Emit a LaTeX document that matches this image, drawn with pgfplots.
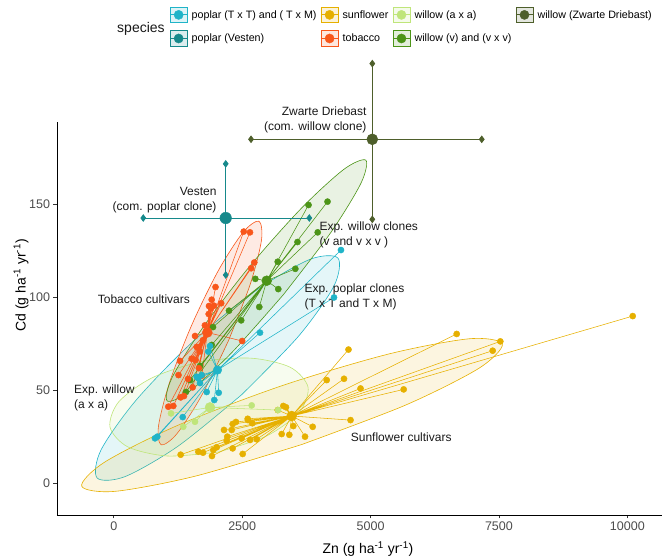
\documentclass[border=0pt]{standalone}
\usepackage{pgfplots}
\pgfplotsset{compat=1.18}
\usepackage{fontspec}
\setmainfont{Liberation Sans}
\definecolor{cyanC}{HTML}{20B4C8}
\definecolor{tealC}{HTML}{16898B}
\definecolor{sunC}{HTML}{E6B000}
\definecolor{tobC}{HTML}{F8561A}
\definecolor{wAC}{HTML}{BFE57A}
\definecolor{wVC}{HTML}{4C9418}
\definecolor{zwC}{HTML}{4E5F2B}
\definecolor{gray30}{HTML}{4D4D4D}
\pgfplotsset{
  legkey/.style 2 args={legend image code/.code={
    \draw[draw=#1, fill=#2, line width=0.6pt] (0pt,-7.7pt) rectangle (17.3pt,7.7pt);
    \draw[#1, line width=0.8pt] (0pt,0pt) -- (17.3pt,0pt);
    \fill[#1] (8.65pt,0pt) circle (4.6pt);}},
  ell/.style={draw=#1, fill=#1, fill opacity=0.12, line width=0.6pt, smooth},
  spoke/.style={#1, line width=0.55pt, no markers},
  pts/.style={only marks, mark=*, mark size=3.1pt, #1, mark options={draw=#1, fill=#1}},
  bigpt/.style={only marks, mark=*, mark size=5pt, #1, mark options={draw=#1, fill=#1}},
  whisk/.style={#1, line width=0.8pt, mark=diamond*, mark size=3.2pt, mark options={fill=#1, draw=#1}},
}
\begin{document}
\begin{tikzpicture}
\begin{axis}[
  at={(0pt,0pt)}, anchor=south west,
  scale only axis, width=605pt, height=393pt,
  xmin=-1106, xmax=10675, ymin=-16.9, ymax=194.3,
  axis x line*=bottom, axis y line*=left,
  axis line style={-, line width=0.8pt, black},
  clip=false,
  xtick={0,2500,5000,7500,10000}, ytick={0,50,100,150},
  scaled x ticks=false,
  tick align=outside, major tick length=3.5pt,
  tick style={line width=0.8pt, color=black!80},
  /pgf/number format/assume math mode=true,
  xticklabel style={/pgf/number format/1000 sep={}},
  tick label style={font=\fontsize{12.5}{14}\selectfont, color=gray30},
  xlabel={Zn (g ha\textsuperscript{-1} yr\textsuperscript{-1})},
  ylabel={Cd (g ha\textsuperscript{-1} yr\textsuperscript{-1})},
  label style={font=\fontsize{14}{16}\selectfont},
  xlabel style={at={(axis description cs:0.514,-0.087)}, anchor=center},
  ylabel style={at={(axis description cs:-0.0595,0.584)}, anchor=center},
  legend columns=2, transpose legend,
  legend cell align=left,
  legend style={at={(axis description cs:0.1861,1.2929)}, anchor=north west,
    draw=none, fill=none, inner sep=0pt, outer sep=0pt,
    font=\fontsize{10.7}{12}\selectfont,
    nodes={inner sep=0pt},
    row sep=7.6pt,
    /tikz/every odd column/.append style={column sep=4pt},
    /tikz/every even column/.append style={column sep=4pt}},
]
% ---------- legend ----------
\addlegendimage{legkey={cyanC}{cyanC!15}}
\addlegendentry{poplar (T x T) and ( T x M)}
\addlegendimage{legkey={tealC}{tealC!15}}
\addlegendentry{poplar (Vesten)}
\addlegendimage{legkey={sunC}{sunC!15}}
\addlegendentry{sunflower}
\addlegendimage{legkey={tobC}{tobC!15}}
\addlegendentry{tobacco}
\addlegendimage{legkey={wAC}{wAC!15}}
\addlegendentry{willow (a x a)}
\addlegendimage{legkey={wVC}{wVC!15}}
\addlegendentry{willow (v) and (v x v)}
\addlegendimage{legkey={zwC}{zwC!15}}
\addlegendentry{willow (Zwarte Driebast)}
\addlegendimage{empty legend}
\addlegendentry{}

% ---------- ellipses ----------
\addplot[ell=cyanC, forget plot] coordinates {(2492,47.8)(1257,20.2)(225,3.8)(-325,3.0)(-248,18.1)(437,44.9)(1546,76.4)(2782,104.0)(3813,120.4)(4364,121.2)(4286,106.1)(3601,79.3)(2492,47.8)} -- cycle;
\addplot[ell=sunC, forget plot] coordinates {(3663,21.0)(1590,4.0)(20,-4.2)(-625,-1.4)(-173,11.6)(1255,31.4)(3277,52.6)(5350,69.6)(6920,77.8)(7565,75.0)(7113,62.0)(5685,42.2)(3663,21.0)} -- cycle;
\addplot[ell=tobC, forget plot] coordinates {(2230,76.6)(1706,47.1)(1227,26.7)(922,20.8)(871,31.0)(1089,54.6)(1518,85.2)(2041,114.7)(2520,135.1)(2826,141.0)(2876,130.8)(2658,107.2)(2230,76.6)} -- cycle;
\addplot[ell=wAC, forget plot] coordinates {(2031,16.9)(1044,14.8)(273,19.7)(-74,30.35)(96,43.9)(737,56.7)(1677,65.3)(2665,67.4)(3435,62.5)(3782,51.85)(3612,38.3)(2971,25.5)(2031,16.9)} -- cycle;
\addplot[ell=wVC, forget plot] coordinates {(3305,101.6)(2293,70.25)(1464,49.3)(1040,44.4)(1133,56.8)(1719,83.25)(2642,116.6)(3653,147.95)(4482,168.9)(4907,173.8)(4813,161.4)(4227,134.95)(3305,101.6)} -- cycle;

% ---------- spokes (mean to each point) ----------
\addplot[spoke=sunC, forget plot] coordinates {(3464,36.3)(10105,90.0)(3464,36.3)(7527,76.4)(3464,36.3)(7378,71.4)(3464,36.3)(6677,80.4)(3464,36.3)(4570,72.0)(3464,36.3)(4146,55.6)(3464,36.3)(4483,56.3)(3464,36.3)(4805,51.1)(3464,36.3)(5645,50.6)(3464,36.3)(4610,34.1)(3464,36.3)(3873,30.5)(3464,36.3)(3724,25.2)(3464,36.3)(3496,30.9)(3464,36.3)(3269,26.6)(3464,36.3)(3418,26.2)(3464,36.3)(3301,41.7)(3464,36.3)(3353,41.0)(3464,36.3)(3192,39.5)(3464,36.3)(2607,34.8)(3464,36.3)(2379,33.1)(3464,36.3)(2315,32.0)(3464,36.3)(2697,32.4)(3464,36.3)(2146,28.8)(3464,36.3)(2296,28.8)(3464,36.3)(2210,25.2)(3464,36.3)(2490,24.3)(3464,36.3)(2782,23.8)(3464,36.3)(2004,19.5)(3464,36.3)(2315,18.9)(3464,36.3)(2510,15.9)(3464,36.3)(1737,16.6)(3464,36.3)(1912,14.8)(3464,36.3)(1302,15.5)(3464,36.3)(1646,17.1)(3464,36.3)(2653,23.4)(3464,36.3)(2198,23.0)(3464,36.3)(2613,34.1)(3464,36.3)(1938,18.0)};
\addplot[spoke=cyanC, forget plot] coordinates {(2019,61.0)(4424,125.5)(2019,61.0)(4288,100.0)(2019,61.0)(2847,81.1)(2019,61.0)(1646,56.6)(2019,61.0)(1614,57.4)(2019,61.0)(1712,58.3)(2019,61.0)(1679,54.0)(2019,61.0)(1809,49.2)(2019,61.0)(2043,48.8)(2019,61.0)(1957,44.9)(2019,61.0)(1342,35.7)(2019,61.0)(802,24.3)(2019,61.0)(847,25.2)(2019,61.0)(1873,73.9)(2019,61.0)(1840,70.9)};
\addplot[spoke=tobC, forget plot] coordinates {(1821,81.2)(2530,135.4)(1821,81.2)(2652,135.0)(1821,81.2)(2736,118.8)(1821,81.2)(2675,115.7)(1821,81.2)(1981,105.6)(1821,81.2)(1906,98.8)(1821,81.2)(1951,95.6)(1821,81.2)(2091,96.9)(1821,81.2)(1854,95.4)(1821,81.2)(1892,94.1)(1821,81.2)(1848,91.1)(1821,81.2)(1582,79.3)(1821,81.2)(2500,76.6)(1821,81.2)(1614,73.4)(1821,81.2)(1517,67.1)(1821,81.2)(1594,66.4)(1821,81.2)(1290,65.9)(1821,81.2)(1260,58.3)(1821,81.2)(1445,56.2)(1821,81.2)(1536,51.7)(1821,81.2)(1367,47.0)(1821,81.2)(1302,46.3)(1821,81.2)(1159,41.7)(1821,81.2)(1061,41.3)(1821,81.2)(1735,77)(1821,81.2)(1676,71)(1821,81.2)(1774,85)(1821,81.2)(1656,62)(1821,81.2)(1715,58)};
\addplot[spoke=wAC, forget plot] coordinates {(1873,40.9)(1114,37.7)(1873,40.9)(1581,33.2)(1873,40.9)(2685,42.0)(1873,40.9)(3198,39.5)(1873,40.9)(1353,30.5)};
\addplot[spoke=wVC, forget plot] coordinates {(2978,109.0)(3792,149.7)(2978,109.0)(4162,151.5)(2978,109.0)(3971,135.0)(2978,109.0)(3577,129.8)(2978,109.0)(3192,119.2)(2978,109.0)(3535,115.4)(2978,109.0)(3203,104.5)(2978,109.0)(2756,110.0)(2978,109.0)(2833,94.9)(2978,109.0)(2243,92.9)(2978,109.0)(2481,87.7)(2978,109.0)(1932,84.1)(2978,109.0)(1907,74.5)(2978,109.0)(1679,63.2)(2978,109.0)(1484,55.6)(2978,109.0)(1406,49.2)};

% ---------- points ----------
\addplot[pts=sunC, forget plot] coordinates {(10105,90.0)(7527,76.4)(7378,71.4)(6677,80.4)(4570,72.0)(4146,55.6)(4483,56.3)(4805,51.1)(5645,50.6)(4610,34.1)(3873,30.5)(3724,25.2)(3496,30.9)(3269,26.6)(3418,26.2)(3301,41.7)(3353,41.0)(3192,39.5)(2607,34.8)(2379,33.1)(2315,32.0)(2697,32.4)(2146,28.8)(2296,28.8)(2210,25.2)(2490,24.3)(2782,23.8)(2004,19.5)(2315,18.9)(2510,15.9)(1737,16.6)(1912,14.8)(1302,15.5)(1646,17.1)(2653,23.4)(2198,23.0)(2613,34.1)(1938,18.0)};
\addplot[pts=wAC, forget plot] coordinates {(1114,37.7)(1581,33.2)(2685,42.0)(3198,39.5)(1353,30.5)};
\addplot[pts=wVC, forget plot] coordinates {(3792,149.7)(4162,151.5)(3971,135.0)(3577,129.8)(3192,119.2)(3535,115.4)(3203,104.5)(2756,110.0)(2833,94.9)(2243,92.9)(2481,87.7)(1932,84.1)(1907,74.5)(1679,63.2)(1484,55.6)(1406,49.2)};
\addplot[pts=tobC, forget plot] coordinates {(2530,135.4)(2652,135.0)(2736,118.8)(2675,115.7)(1981,105.6)(1906,98.8)(1951,95.6)(2091,96.9)(1854,95.4)(1892,94.1)(1848,91.1)(1582,79.3)(2500,76.6)(1614,73.4)(1517,67.1)(1594,66.4)(1290,65.9)(1260,58.3)(1445,56.2)(1536,51.7)(1367,47.0)(1302,46.3)(1159,41.7)(1061,41.3)(1735,77)(1676,71)(1774,85)(1656,62)(1715,58)};
\addplot[pts=cyanC, forget plot] coordinates {(4424,125.5)(4288,100.0)(2847,81.1)(1646,56.6)(1614,57.4)(1712,58.3)(1679,54.0)(1809,49.2)(2043,48.8)(1957,44.9)(1342,35.7)(802,24.3)(847,25.2)(1873,73.9)(1840,70.9)};

% ---------- means ----------
\addplot[bigpt=sunC, forget plot] coordinates {(3464,36.3)};
\addplot[bigpt=wAC, forget plot] coordinates {(1873,40.9)};
\addplot[bigpt=tobC, forget plot] coordinates {(1821,81.2)};
\addplot[bigpt=wVC, forget plot] coordinates {(2978,109.0)};
\addplot[bigpt=cyanC, mark size=4.3pt, forget plot] coordinates {(2019,61.0)};

% ---------- commercial clones with error bars ----------
\addplot[whisk=tealC, forget plot] coordinates {(574,142.7)(3807,142.7)};
\addplot[whisk=tealC, forget plot] coordinates {(2179,112.1)(2179,171.8)};
\addplot[bigpt=tealC, mark size=5.8pt, forget plot] coordinates {(2179,142.7)};
\addplot[whisk=zwC, forget plot] coordinates {(2672,185.0)(7165,185.0)};
\addplot[whisk=zwC, forget plot] coordinates {(5034,142.0)(5034,225.7)};
\addplot[bigpt=zwC, mark size=5.5pt, forget plot] coordinates {(5034,185.0)};

% ---------- annotations ----------
\begin{scope}[every node/.style={font=\fontsize{12}{15}\selectfont, inner sep=0pt, text=black!90}]
\node[anchor=east, align=right] at (axis cs:4925,195.2) {Zwarte Driebast\\(com. willow clone)};
\node[anchor=east, align=right] at (axis cs:2004,152.1) {Vesten\\(com. poplar clone)};
\node[anchor=west, align=left] at (axis cs:4002,133.6) {Exp. willow clones\\(v and v x v )};
\node[anchor=west, align=left] at (axis cs:3710,100.3) {Exp. poplar clones\\(T x T and T x M)};
\node[anchor=west] at (axis cs:-314,99.0) {Tobacco cultivars};
\node[anchor=west, align=left] at (axis cs:-775,46.0) {Exp. willow\\(a x a)};
\node[anchor=west] at (axis cs:4613,24.8) {Sunflower cultivars};
\node[anchor=center, font=\fontsize{14}{16}\selectfont] at (axis description cs:0.1388,1.2366) {species};
\end{scope}
\end{axis}
\pgfresetboundingbox
\path[use as bounding box] (-57pt,-42pt) rectangle (605pt,515pt);
\end{tikzpicture}
\end{document}
